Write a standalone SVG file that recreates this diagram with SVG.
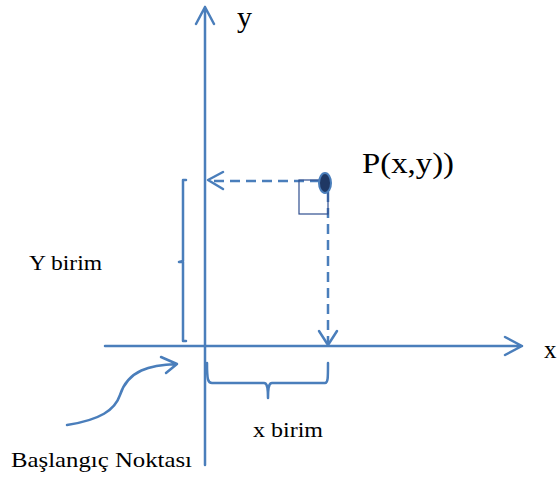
<svg xmlns="http://www.w3.org/2000/svg" width="559" height="478" viewBox="0 0 559 478">
<style>
.ln{fill:none;stroke:#4a7ebb;stroke-width:2.5;stroke-linecap:round;stroke-linejoin:round}
.ds{fill:none;stroke:#4a7ebb;stroke-width:2.5;stroke-dasharray:10 6}
text{font-family:"Liberation Serif","Times New Roman","DejaVu Serif",serif;fill:#000}
</style>
<rect width="559" height="478" fill="#fff"/>
<g id="connectors">
<path class="ln" d="M205,465 V7 M196,24 L205,7 L214,24"/>
<path class="ln" d="M105,346 H522 M505,337 L522,346 L505,355"/>
<path class="ds" d="M320,181 H210"/>
<path class="ln" d="M223,172 L208,180 L223,189"/>
<path class="ds" d="M328,192 V343"/>
<path class="ln" d="M319,331 L328,345 L337,331"/>
<path class="ln" d="M67,425 C100,420 115,410 120,395 C128,370 150,365 177,364 M161,357 L177,364 L166,373"/>
<path class="ln" d="M186,180 H183 V261 L179,262 L183,262 V341 H186"/>
<path class="ln" d="M207,363 C207,380 208,383 212,383 H264 C267,383 268,387 268,398 C268,387 269,383 272,383 H325 C328,383 328,378 328,363"/>
</g>
<g id="square"><rect x="299" y="180" width="29" height="34" fill="none" stroke="#2f4f8f" stroke-width="1.2"/></g>
<g id="point"><ellipse cx="325" cy="183" rx="6" ry="10" fill="#1f3864" stroke="#4a7ebb" stroke-width="2"/></g>
<g id="labels">
<text x="237" y="27" font-size="30">y</text>
<text x="544" y="358" font-size="25">x</text>
<text x="362" y="173" font-size="30" textLength="92" lengthAdjust="spacingAndGlyphs">P(x,y))</text>
<text x="29" y="270" font-size="21" textLength="73" lengthAdjust="spacingAndGlyphs">Y birim</text>
<text x="253" y="437" font-size="20" textLength="70" lengthAdjust="spacingAndGlyphs">x birim</text>
<text x="11" y="467" font-size="21" textLength="181" lengthAdjust="spacingAndGlyphs">Başlangıç Noktası</text>
</g>
</svg>
